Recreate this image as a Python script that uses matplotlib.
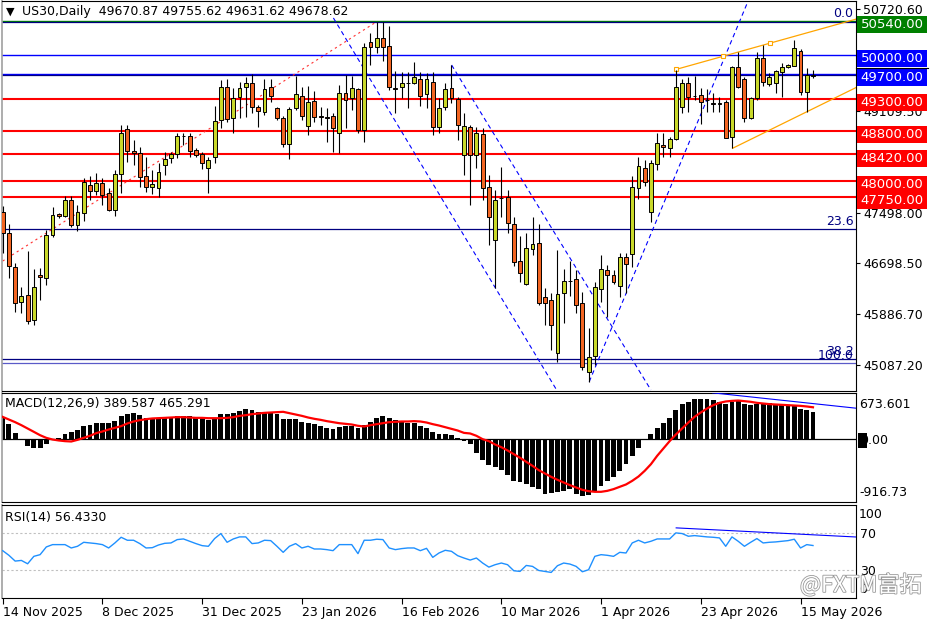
import numpy as np
import matplotlib
matplotlib.use('Agg')
import matplotlib.pyplot as plt
import matplotlib.transforms as mtransforms
import matplotlib.patheffects as pe
from matplotlib.patches import Rectangle
from matplotlib.lines import Line2D

# daily candles, 14 Nov 2025 .. 19 May 2026
opens = [47512, 47179, 46640, 46076, 46187, 45795, 46509, 46456, 47143, 47471,
         47449, 47698, 47302, 47487, 47936, 47846, 47972, 47804, 47539, 48110,
         48819, 48480, 48439, 48083, 47899, 47884, 48253, 48359, 48428, 48718,
         48713, 48491, 48428, 48201, 48385, 48967, 49485, 48994, 49327, 49495,
         49558, 49178, 49098, 49485, 49162, 48994, 48581, 49152, 49352, 48872,
         49273, 49025, 49019, 49030, 48756, 49390, 49311, 49454, 48808, 50199,
         50120, 50263, 50145, 49470, 49485, 49558, 49558, 49612, 49379, 49565,
         48861, 49168, 49470, 49300, 48412, 48861, 48412, 48740, 47899, 47064,
         47730, 47750, 47317, 46730, 46361, 46916, 47021, 46164, 46112, 45276,
         46218, 46413, 46440, 46060, 44975, 45224, 46282, 46588, 46509, 46339,
         46799, 46842, 47893, 48201, 47512, 48269, 48570, 48518, 48661, 49168,
         49549, 49348, 49363, 49284, 49232, 49232, 49257, 48702, 49812, 49617,
         48994, 49311, 49945, 49538, 49549, 49733, 49803, 49823, 50061, 49406,
         49670.87]
highs = [47603, 47317, 46704, 46323, 46889, 46604, 46615, 47222, 47592, 47492,
         47761, 47761, 47619, 48047, 48079, 48122, 48047, 47888, 48174, 48888,
         48888, 48650, 48543, 48375, 48174, 48285, 48464, 48464, 48765, 48756,
         48765, 48518, 48464, 48385, 49189, 49601, 49617, 49470, 49574, 49644,
         49696, 49205, 49612, 49612, 49178, 49030, 49168, 49665, 49485, 49506,
         49432, 49178, 49152, 49073, 49522, 49681, 49665, 49470, 50193, 50342,
         50526, 50526, 50458, 49744, 49733, 49733, 49891, 49733, 49717, 49733,
         49311, 49549, 49839, 49336, 49073, 48888, 48861, 48835, 48095, 47857,
         48226, 47857, 47433, 47127, 47179, 47433, 47313, 46307, 46218, 46905,
         46599, 46735, 46588, 46244, 45663, 46402, 46826, 46667, 46588, 46853,
         46853, 48079, 48385, 48333, 48333, 48756, 48756, 48702, 49760, 49612,
         49654, 49665, 49470, 49454, 49390, 49336, 49284, 49830, 50050, 49654,
         49336, 50050, 50156, 49708, 49760, 49866, 49855, 50236, 50088, 49787,
         49755.62]
lows = [46862, 46461, 45926, 45911, 45727, 45716, 46112, 46350, 47116, 47408,
        47433, 47275, 47211, 47370, 47698, 47777, 47619, 47524, 47444, 47809,
        48305, 48253, 47909, 47830, 47793, 47750, 48095, 48280, 48359, 48570,
        48385, 48385, 48185, 47814, 48290, 48835, 48940, 48756, 48994, 49019,
        49073, 48861, 49046, 49257, 48967, 48543, 48344, 49125, 48967, 48729,
        48940, 48888, 48623, 48464, 48439, 48835, 49125, 48765, 48623, 49839,
        50025, 49903, 49443, 49083, 49311, 49162, 49538, 49189, 49152, 48729,
        48756, 49125, 49232, 48650, 48095, 47619, 48201, 47698, 46984, 46298,
        47433, 47170, 46651, 46402, 46350, 46826, 46033, 45716, 45319, 45133,
        45742, 46175, 45901, 45002, 44816, 45081, 46085, 45847, 46366, 46164,
        46228, 46640, 47709, 47920, 47354, 48174, 48385, 48385, 48650, 49083,
        49099, 49284, 48903, 49099, 49099, 49099, 48677, 48518, 49470, 48940,
        48983, 49284, 49506, 49506, 49400, 49336, 49792, 49823, 49363, 49099,
        49631.62]
closes = [47179, 46651, 46060, 46175, 45784, 46323, 46472, 47143, 47455, 47449,
          47698, 47302, 47503, 47988, 47846, 47963, 47777, 47539, 48110, 48765,
          48480, 48439, 48068, 47909, 47952, 48147, 48344, 48423, 48713, 48710,
          48480, 48412, 48290, 48332, 48951, 49485, 48978, 49320, 49470, 49549,
          49168, 49110, 49454, 49352, 48994, 48581, 49137, 49374, 49035, 49248,
          49010, 49019, 48994, 48845, 49390, 49284, 49470, 48808, 50120, 50129,
          50263, 50120, 49495, 49464, 49549, 49550, 49654, 49352, 49612, 48851,
          49162, 49454, 49311, 48888, 48872, 48412, 48756, 47884, 47433, 47698,
          47725, 47338, 46719, 46536, 46932, 47000, 46069, 46069, 45716, 46207,
          46413, 46408, 46033, 45054, 45203, 46323, 46599, 46509, 46402, 46799,
          46678, 47909, 48237, 47988, 48290, 48607, 48543, 48661, 49485, 49558,
          49336, 49343, 49248, 49279, 49227, 49228, 48686, 49812, 49495, 48994,
          49320, 49945, 49574, 49644, 49744, 49803, 49839, 50104, 49406, 49681,
          49678.62]

macd_hist = [315, 219, 96, -5, -98, -123, -123, -73, -10, 23,
             82, 107, 131, 185, 204, 243, 243, 233, 263, 331,
             365, 379, 350, 316, 292, 302, 302, 302, 331, 340,
             331, 316, 302, 282, 302, 365, 365, 379, 413, 438,
             428, 399, 399, 389, 365, 292, 292, 292, 253, 243,
             219, 195, 160, 146, 180, 185, 185, 156, 204, 253,
             316, 340, 302, 277, 258, 243, 229, 185, 170, 107,
             73, 73, 58, 10, -24, -73, -195, -302, -379, -399,
             -452, -525, -608, -632, -657, -691, -729, -793, -788, -778,
             -754, -729, -802, -827, -817, -754, -681, -608, -545, -462,
             -365, -243, -122, -15, 73, 170, 243, 302, 423, 511,
             545, 584, 593, 593, 574, 545, 520, 535, 559, 511,
             496, 520, 525, 525, 511, 496, 496, 477, 438, 428,
             389.587]
macd_signal = [325, 287, 248, 204, 156, 107, 58, 19, -5, -19,
               -29, -34, -10, 19, 49, 88, 112, 141, 165, 190,
               229, 258, 277, 292, 302, 306, 311, 316, 321, 321,
               316, 311, 311, 306, 306, 306, 311, 321, 340, 350,
               365, 374, 384, 389, 394, 399, 379, 360, 340, 316,
               297, 282, 263, 248, 233, 224, 214, 195, 185, 204,
               219, 233, 248, 253, 258, 258, 263, 258, 243, 219,
               199, 175, 151, 126, 92, 83, 49, 0, -29, -78,
               -117, -165, -219, -272, -331, -389, -452, -501, -550, -593,
               -632, -671, -705, -739, -759, -768, -768, -754, -729, -695,
               -661, -608, -545, -462, -365, -243, -136, -29, 68, 156,
               243, 326, 389, 447, 496, 530, 550, 559, 564, 554,
               545, 530, 520, 511, 506, 501, 496, 491, 486, 477,
               465.291]
rsi = [50.9, 45.9, 39.7, 40.4, 36.8, 44.8, 46.6, 54.9, 57.4, 57.4,
       57.4, 53.8, 55.6, 59.9, 59.2, 58.5, 57.4, 53.8, 59.2, 65.3,
       62.1, 62.1, 58.5, 53.8, 54.1, 57.0, 58.8, 59.2, 62.8, 63.5,
       61.0, 58.5, 56.3, 55.6, 63.9, 69.3, 59.9, 63.5, 65.7, 65.7,
       58.5, 59.2, 62.1, 61.7, 55.6, 49.1, 55.6, 58.5, 53.8, 55.6,
       52.7, 52.7, 52.0, 50.9, 57.4, 57.4, 57.4, 47.7, 62.1, 62.1,
       63.2, 62.8, 53.8, 52.0, 53.1, 53.8, 53.8, 50.9, 53.4, 43.7,
       48.4, 51.3, 50.2, 45.5, 43.0, 40.8, 43.0, 37.6, 33.2, 35.8,
       37.6, 35.8, 29.3, 28.6, 35.0, 34.0, 29.6, 28.6, 27.5, 34.7,
       37.6, 36.5, 34.0, 28.2, 30.4, 44.8, 46.6, 45.9, 44.8, 49.1,
       48.4, 59.2, 62.1, 59.2, 61.0, 63.5, 63.5, 63.5, 70.0, 69.3,
       66.4, 67.1, 66.4, 65.7, 65.3, 64.6, 55.6, 65.7, 61.0, 55.6,
       59.9, 63.9, 59.2, 59.9, 60.3, 61.0, 61.7, 63.2, 53.8, 57.4,
       56.433]

date_pos = [0, 16, 32, 48, 64, 80, 96, 112, 128]
date_labels = ['14 Nov 2025', '8 Dec 2025', '31 Dec 2025', '23 Jan 2026', '16 Feb 2026',
               '10 Mar 2026', '1 Apr 2026', '23 Apr 2026', '15 May 2026']
price_ticks = [50720.60, 49915.10, 49109.50, 48303.80, 47498.00, 46698.50, 45886.70, 45087.20]

# horizontal levels with their label box colours
levels = [50540, 50000, 49700, 49300, 48800, 48420, 48000, 47750]
level_colors = ['#008000', '#0000ff', '#0000ff', '#ff0000', '#ff0000', '#ff0000', '#ff0000', '#ff0000']
fib_prices = [50525, 47238, 45176, 45113]
fib_labels = ['0.0', '23.6', '38.2', '100.0']
navy_extra = 49675

# drawn objects: (x0, x1), (y0, y1) in bar index / price
red_trend = ([0, 60], [46730, 50526])
blue_dashed = [([53.06, 88.87], [50585, 44685]),
               ([72.02, 104.0], [49839, 44685]),
               ([94.1, 119.44], [44816, 50818])]
orange_upper = ([108.1, 137.0], [49771, 50569])
orange_marks = ([108.1, 115.6, 123.1], [49771, 49978, 50185])
orange_lower = ([117.1, 137.0], [48518, 49486])
macd_trend = ([113.9, 136.9], [676, 452])
rsi_trend = ([108.05, 136.9], [75.4, 65.6])

W, H = 936, 624
def px_box(x0, y0, x1, y1):
    return [x0 / W, 1 - y1 / H, (x1 - x0) / W, (y1 - y0) / H]

plt.rcParams['font.size'] = 9
fig = plt.figure(figsize=(W / 100, H / 100), dpi=100)
ax = fig.add_axes(px_box(2, 1, 856, 391))
axm = fig.add_axes(px_box(2, 393, 856, 502), sharex=ax)
axr = fig.add_axes(px_box(2, 505, 856, 598), sharex=ax)

idx = np.arange(len(opens))
o = np.array(opens); hi = np.array(highs); lo = np.array(lows); c = np.array(closes)
up = c >= o

# --- price panel
for lv, col in zip(levels, level_colors):
    lw = 1.5 if col == '#ff0000' else 1.0
    ax.axhline(lv, color=col, lw=lw, zorder=1)
for fp in fib_prices[:3]:
    ax.axhline(fp, color='#000080', lw=0.9, zorder=1)
ax.axhline(fib_prices[3], color='#5a5ac8', lw=0.9, zorder=1)
ax.axhline(navy_extra, color='#000080', lw=0.9, zorder=1)

ax.plot(*red_trend, color='#ff3030', lw=0.8, ls=(0, (2, 3)), zorder=2)
for xs, ys in blue_dashed:
    ax.plot(xs, ys, color='#0000ff', lw=0.8, ls=(0, (4, 3)), zorder=2)
ax.plot(*orange_upper, color='#ffa500', lw=0.9, zorder=2)
ax.plot(*orange_lower, color='#ffa500', lw=0.9, zorder=2)
ax.plot(*orange_marks, ls='none', marker='s', ms=3.5, mfc='white', mec='#ffa500', mew=0.8, zorder=3)

ax.vlines(idx, lo, hi, color='black', lw=0.8, zorder=3)
ax.bar(idx, np.maximum(np.abs(c - o), 4), bottom=np.minimum(o, c), width=0.62,
       color=np.where(up, '#c8d82a', '#f26522'), edgecolor='black', linewidth=0.7, zorder=4)

ax.set_xlim(-0.11, 136.9)
ax.set_ylim(44669, 50854)
ax.yaxis.tick_right()
ax.set_yticks(price_ticks)
ax.set_yticklabels([f'{v:.2f}' for v in price_ticks])
ax.tick_params(axis='y', length=3, pad=2, labelsize=9)
ax.tick_params(axis='x', bottom=False, labelbottom=False)

blend = mtransforms.blended_transform_factory(ax.transAxes, ax.transData)
unit = (50854 - 44669) / 390.0  # price per pixel
for lv, col in zip(levels, level_colors):
    yc = lv - 4 * unit
    ax.add_patch(Rectangle((855 / 854, yc - 8.5 * unit), 70 / 854, 17 * unit, transform=blend,
                           facecolor=col, edgecolor='none', clip_on=False, zorder=6))
    ax.text(890 / 854, yc, f'{lv:.2f}', transform=blend, ha='center', va='center',
            color='white', fontsize=9.5, clip_on=False, zorder=7)
for fp, lab in zip(fib_prices, fib_labels):
    ax.text(0.997, fp + 1.5 * unit, lab, transform=blend, ha='right', va='bottom',
            color='#000080', fontsize=9, zorder=5)

fig.add_artist(Line2D([856 / W, 928 / W], [1 - 68.3 / H, 1 - 68.3 / H], color='black', lw=0.8))
fig.text(6 / W, 1 - 12 / H, '\u25bc', fontsize=8, va='center', ha='left')
fig.text(22 / W, 1 - 12 / H, 'US30,Daily  49670.87 49755.62 49631.62 49678.62',
         fontsize=9, va='center', ha='left')

# --- MACD panel
axm.bar(idx, macd_hist, width=0.78, color='black', zorder=2)
axm.axhline(0, color='black', lw=0.9, zorder=2)
axm.plot(idx, macd_signal, color='#ff0000', lw=1.6, zorder=3)
axm.plot(*macd_trend, color='#0000ff', lw=0.8, zorder=3)
axm.set_ylim(-916.73, 673.601)
axm.yaxis.tick_right()
axm.set_yticks([0])
axm.set_yticklabels(['0.00'])
axm.tick_params(axis='y', length=0, pad=3, labelsize=9)
axm.tick_params(axis='x', bottom=False, labelbottom=False)
axm.annotate('673.601', xy=(1, 673.601), xycoords=('axes fraction', 'data'),
             xytext=(3, -5), textcoords='offset pixels', ha='left', va='top', fontsize=9,
             annotation_clip=False)
axm.annotate('-916.73', xy=(1, -916.73), xycoords=('axes fraction', 'data'),
             xytext=(3, 3), textcoords='offset pixels', ha='left', va='bottom', fontsize=9,
             annotation_clip=False)
fig.add_artist(Rectangle((858 / W, 1 - 448 / H), 8.5 / W, 15.5 / H, transform=fig.transFigure,
                         facecolor='black', edgecolor='none', zorder=0))
fig.text(5 / W, 1 - 404 / H, 'MACD(12,26,9) 389.587 465.291', fontsize=9, va='center')

# --- RSI panel
axr.axhline(70, color='#c0c0c0', lw=0.8, ls=(0, (2, 2)))
axr.axhline(30, color='#c0c0c0', lw=0.8, ls=(0, (2, 2)))
axr.plot(idx, rsi, color='#1e90ff', lw=1.0, zorder=3)
axr.plot(*rsi_trend, color='#0000ff', lw=0.8, zorder=3)
axr.set_ylim(0, 100)
axr.yaxis.tick_right()
axr.set_yticks([70, 30])
axr.set_yticklabels(['70', '30'])
axr.tick_params(axis='y', length=0, pad=3, labelsize=9)
axr.annotate('100', xy=(1, 100), xycoords=('axes fraction', 'data'), xytext=(3, -3),
             textcoords='offset pixels', ha='left', va='top', fontsize=9, annotation_clip=False)
axr.annotate('0', xy=(1, 0), xycoords=('axes fraction', 'data'), xytext=(3, 2),
             textcoords='offset pixels', ha='left', va='bottom', fontsize=9, annotation_clip=False)
fig.text(5 / W, 1 - 517 / H, 'RSI(14) 56.4330', fontsize=9, va='center')

axr.set_xticks(date_pos)
axr.set_xticklabels(date_labels)
axr.tick_params(axis='x', length=4, pad=2, labelsize=9)
for t in axr.get_xticklabels():
    t.set_ha('left')

for a in (ax, axm, axr):
    for s in a.spines.values():
        s.set_color('black')
        s.set_linewidth(0.8)
    a.spines['left'].set_color('#a0a0a0')
    a.spines['left'].set_linewidth(1.2)

fig.text(800 / W, 1 - 585 / H, '@FXTM富拓', fontsize=16, color='white',
         family=['Noto Sans CJK SC', 'DejaVu Sans'], va='center', ha='left',
         path_effects=[pe.withStroke(linewidth=1.2, foreground='#9a9a9a')])

fig.savefig('out.png', dpi=100, facecolor='white')
